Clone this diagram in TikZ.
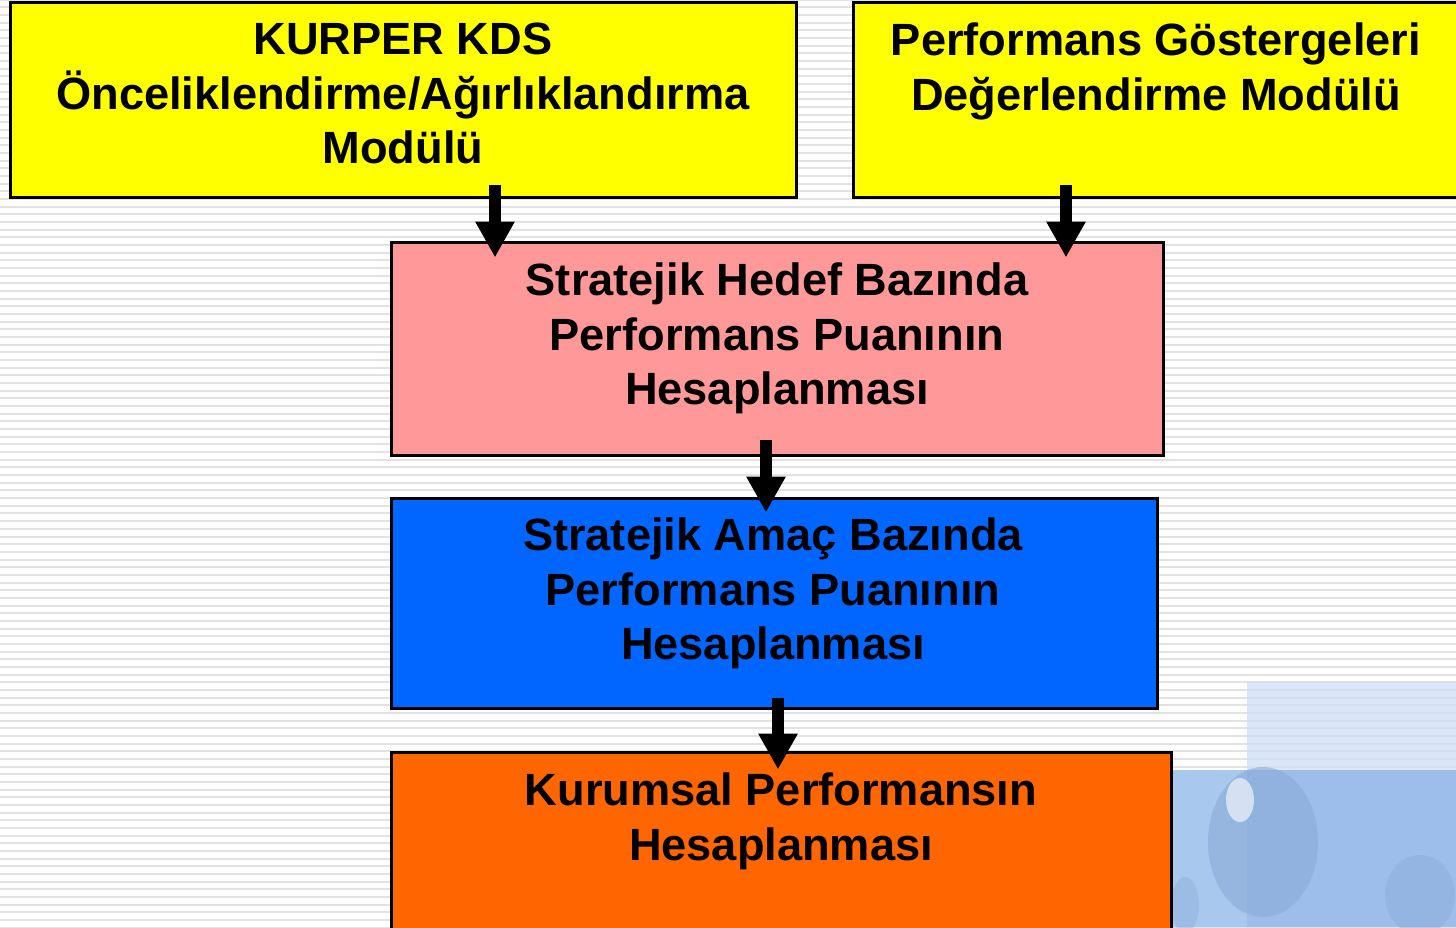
\documentclass[tikz,border=0pt]{standalone}
\usepackage{fontspec}
\setmainfont{Liberation Sans}
\usetikzlibrary{arrows.meta}
\definecolor{cyellow}{HTML}{FFFF00}
\definecolor{cpink}{HTML}{FF9999}
\definecolor{cblue}{HTML}{0066FF}
\definecolor{corange}{HTML}{FF6600}
\definecolor{cstripe}{HTML}{E2E2E2}
\definecolor{cphotoA}{HTML}{CFE0F8}
\definecolor{cphotoB}{HTML}{A9C8EE}
\definecolor{cphotoC}{HTML}{9DBEEA}
\definecolor{cphotoD}{HTML}{8AAAD8}
\tikzset{
  box/.style={draw=black, line width=3pt, rectangle, inner sep=0pt},
  lbl/.style={anchor=north, inner sep=0pt, align=center,
    font=\bfseries\fontsize{45.2}{54.5}\selectfont},
  arr/.style={line width=12pt, -{Triangle[length=36pt,width=37pt]}, black}
}
\begin{document}
\begin{tikzpicture}[x=1pt,y=-1pt]
\useasboundingbox (0,0) rectangle (1456,927);
\fill[white] (0,0) rectangle (1456,927);
% background stripes
\foreach \k in {0,...,121}{
  \draw[cstripe, line width=2pt] (0,{-0.4+\k*7.67}) -- (1456,{-0.4+\k*7.67});
}
% photo corner
\fill[cphotoA, opacity=0.75] (1247,682) rectangle (1456,770);
\fill[cphotoB] (1172,770) rectangle (1456,927);
\fill[cphotoC] (1247,770) rectangle (1456,927);
\fill[cphotoD, opacity=0.6] (1263,842) ellipse [x radius=55, y radius=75];
\fill[white, opacity=0.6] (1240,800) ellipse [x radius=14, y radius=22];
\fill[cphotoD, opacity=0.45] (1420,895) ellipse [x radius=35, y radius=40];
\fill[cphotoD, opacity=0.4] (1185,905) ellipse [x radius=14, y radius=28];

% boxes
\node[box, fill=cyellow, minimum width=786pt, minimum height=195pt] (y1) at (403,99.5) {};
\node[box, fill=cyellow, minimum width=610pt, minimum height=195pt] (y2) at (1158,99.5) {};
\node[box, fill=cpink, minimum width=772pt, minimum height=213pt] (p) at (777,348.5) {};
\node[box, fill=cblue, minimum width=766pt, minimum height=210pt] (b) at (774,603) {};
\node[box, fill=corange, minimum width=780pt, minimum height=180pt] (o) at (781,842) {};

% arrows
\draw[arr] ([xshift=92pt,yshift=14pt]y1.south) -- ([xshift=-282pt,yshift=-17pt]p.north);
\draw[arr] ([xshift=-92pt,yshift=14pt]y2.south) -- ([xshift=289pt,yshift=-17pt]p.north);
\draw[arr] ([xshift=-11pt,yshift=17pt]p.south) -- ([xshift=-8pt,yshift=-16pt]b.north);
\draw[arr] ([xshift=4pt,yshift=12pt]b.south) -- ([xshift=-3pt,yshift=-19pt]o.north);

% labels
\node[lbl] (t1) at (403,23) {KURPER KDS\\Önceliklendirme/Ağırlıklandırma\\Modülü};
\node[lbl] (t2) at (1156,23) {Performans Göstergeleri\\Değerlendirme Modülü};
\node[lbl] (t3) at (777,263) {Stratejik Hedef Bazında\\Performans Puanının\\Hesaplanması};
\node[lbl] (t4) at (773,518) {Stratejik Amaç Bazında\\Performans Puanının\\Hesaplanması};
\node[lbl] (t5) at (781,773) {Kurumsal Performansın\\Hesaplanması};
\end{tikzpicture}
\end{document}
